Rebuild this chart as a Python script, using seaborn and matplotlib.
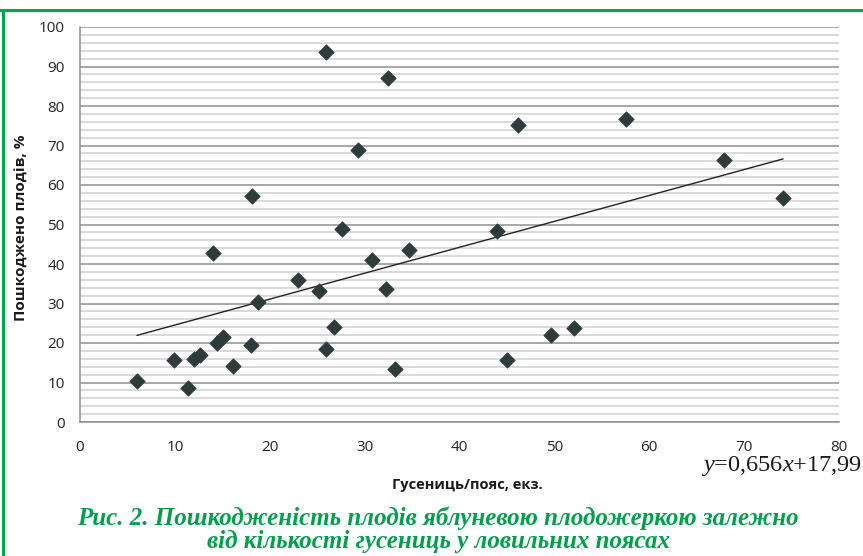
import numpy as np
import pandas as pd
import matplotlib
matplotlib.use("Agg")
import matplotlib.pyplot as plt
import seaborn as sns
from matplotlib.ticker import MultipleLocator
from matplotlib.lines import Line2D

# ---- data ----
caterpillars = [6.0, 9.9, 11.4, 12.0, 12.6, 14.0, 14.4, 15.1, 16.1, 18.1, 18.0, 18.8,
                23.0, 25.2, 25.9, 25.9, 26.8, 27.6, 29.3, 30.8, 32.5, 32.3, 33.2, 34.7,
                44.0, 45.0, 46.2, 49.6, 52.1, 57.6, 67.9, 74.1]
damaged = [10.4, 15.8, 8.6, 16.0, 16.9, 42.7, 20.1, 21.6, 14.1, 57.3, 19.4, 30.3,
           35.9, 33.1, 93.6, 18.4, 24.0, 48.8, 68.9, 40.9, 87.2, 33.6, 13.3, 43.6,
           48.4, 15.8, 75.2, 22.0, 23.8, 76.6, 66.4, 56.8]
slope = 0.656
intercept = 17.99

x_label = "Гусениць/пояс, екз."
y_label = "Пошкоджено плодів, %"
equation = r"$y$=0,656$x$+17,99"
caption = ("Рис. 2. Пошкодженість плодів яблуневою плодожеркою залежно\n"
           "від кількості гусениць у ловильних поясах")

df = pd.DataFrame({"x": caterpillars, "y": damaged})

sns.set_theme(style="white")
plt.rcParams["font.family"] = ["Open Sans", "DejaVu Sans"]
plt.rcParams["mathtext.fontset"] = "custom"
plt.rcParams["mathtext.rm"] = "Liberation Serif"
plt.rcParams["mathtext.it"] = "Liberation Serif:italic"

fig = plt.figure(figsize=(8.63, 5.56), dpi=100)
ax = fig.add_axes([80 / 863, 1 - 422 / 556, (839 - 80) / 863, (422 - 27) / 556])

ax.set_xlim(0, 80)
ax.set_ylim(0, 100)
ax.xaxis.set_major_locator(MultipleLocator(10))
ax.yaxis.set_major_locator(MultipleLocator(10))
ax.yaxis.set_minor_locator(MultipleLocator(2))

ax.grid(which="minor", axis="y", color="#d2d4d4", linewidth=1.2, zorder=0)
ax.grid(which="major", axis="y", color="#8e9090", linewidth=1.1, zorder=0)
ax.set_axisbelow(True)

for s in ["top", "right"]:
    ax.spines[s].set_visible(False)
for s in ["left", "bottom"]:
    ax.spines[s].set_color("#8e9090")
    ax.spines[s].set_linewidth(1.1)

ax.tick_params(axis="both", which="major", direction="out", length=5, width=1,
               color="#8e9090", labelsize=11, labelcolor="#222222", pad=6)
ax.tick_params(axis="y", which="minor", length=0)
ax.tick_params(axis="x", which="major", pad=8)

# trend line
xs = np.array([min(caterpillars), max(caterpillars)])
ax.plot(xs, slope * xs + intercept, color="#222222", linewidth=1.0, zorder=2)

sns.scatterplot(data=df, x="x", y="y", marker="D", s=62, color="#2e3b3b",
                edgecolor="#2e3b3b", linewidth=0.5, ax=ax, zorder=3)

ax.set_xlabel("")
ax.set_ylabel("")
fig.text(467 / 863, 1 - 485 / 556, x_label, ha="center", va="center",
         fontsize=10.5, fontweight="bold", color="#1a1a1a")
fig.text(22 / 863, 1 - 228 / 556, y_label, ha="center", va="center", rotation=90,
         fontsize=11, fontweight="bold", color="#1a1a1a")

fig.text(862 / 863, 1 - 466 / 556, equation, ha="right", va="center",
         fontsize=17.5, family="Liberation Serif", color="#1a1a1a")

fig.text(438 / 863, 1 - 530 / 556, caption, ha="center", va="center",
         fontsize=18, family="Liberation Serif", style="italic", fontweight="bold",
         color="#00a14b", linespacing=0.98)

# green frame
fig.add_artist(Line2D([0, 1], [1 - 10 / 556, 1 - 10 / 556], color="#00a650",
                      linewidth=2.2, transform=fig.transFigure))
fig.add_artist(Line2D([2.5 / 863, 2.5 / 863], [0, 1 - 10 / 556], color="#00a650",
                      linewidth=2.2, transform=fig.transFigure))

fig.savefig("out.png", dpi=100)
